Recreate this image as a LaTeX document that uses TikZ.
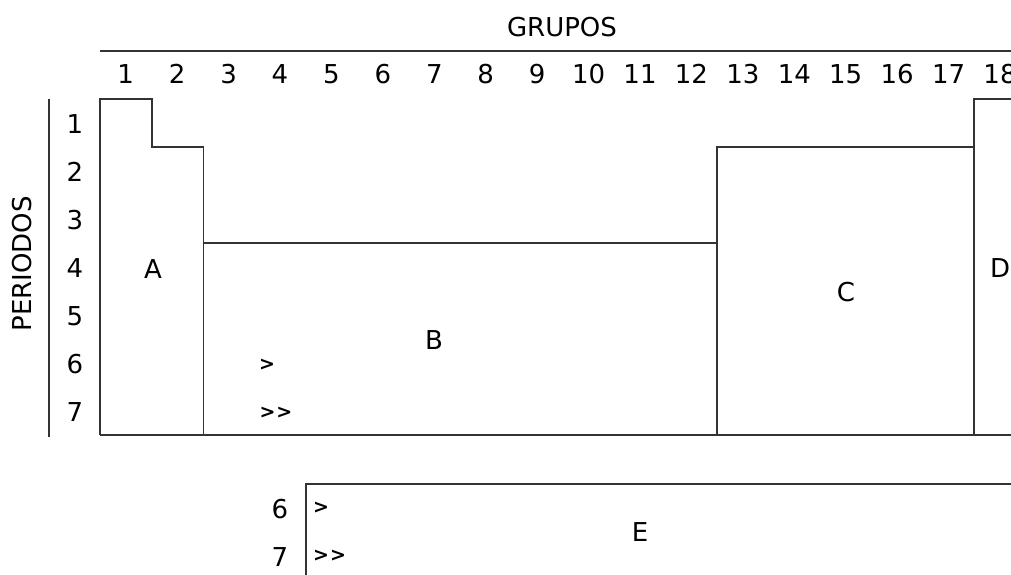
\documentclass[tikz,border=0pt]{standalone}
\usepackage{fontspec}
\setmainfont{DejaVu Sans}
\begin{document}
\begin{tikzpicture}[x=1pt,y=-1pt,
  ln/.style={draw=black!80,line width=1.6pt},
  lbl/.style={inner sep=0pt,font=\fontsize{26}{30}\selectfont},
  num/.style={inner sep=0pt,anchor=base,font=\fontsize{26}{30}\selectfont},
  mk/.style={inner sep=0pt,font=\fontsize{19}{22}\selectfont\bfseries}]
\useasboundingbox (0,0) rectangle (1011,575);
\clip (0,0) rectangle (1011,575);
% header
\node[lbl] (grupos) at (562,27) {GRUPOS};
\draw[ln] (100,51) -- (1011,51);
\foreach \g in {1,...,18}{
  \node[num] (g\g) at ({100+(\g-0.5)*51.43},84) {\g};
}
% periods
\node[lbl,rotate=90] (periodos) at (22,264) {PERIODOS};
\draw[ln] (49,99) -- (49,437);
\foreach \p in {1,...,7}{
  \node[num] (p\p) at (75,{99+(\p-0.5)*48+10}) {\p};
}
% table outline
\draw[ln] (100,435) -- (100,99) -- (151.7,99) -- (151.7,147) -- (203.3,147) -- (203.3,243)
  -- (716.8,243) -- (716.8,147) -- (973.8,147) -- (973.8,99) -- (1030,99);
\draw[ln] (100,435) -- (1030,435);
\draw[ln] (203.3,243) -- (203.3,435);
\draw[ln] (716.8,243) -- (716.8,435);
\draw[ln] (973.8,147) -- (973.8,435);
% region labels
\node[lbl] (A) at (153,269) {A};
\node[lbl] (B) at (434,340) {B};
\node[lbl] (C) at (846,292) {C};
\node[lbl,anchor=west] (D) at (990,268) {D};
\node[mk] (m6) at (267,365) {>};
\node[mk] (m7) at (276,413) {>\kern1pt>};
% lower block E
\draw[ln] (1030,484) -- (305.7,484) -- (305.7,580);
\node[num] (q6) at (280,518) {6};
\node[num] (q7) at (280,566) {7};
\node[mk,anchor=west] (e6) at (313,508) {>};
\node[mk,anchor=west] (e7) at (313,556) {>\kern1pt>};
\node[lbl] (E) at (640,532) {E};
\end{tikzpicture}
\end{document}
